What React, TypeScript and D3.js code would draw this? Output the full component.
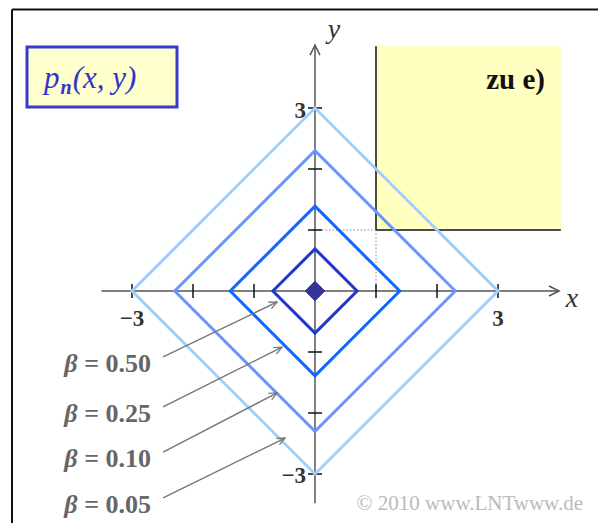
import React from "react";
import * as d3 from "d3";

// contour levels beta and the matching diamond radii |x|+|y| = r
const betas = ["0.05", "0.10", "0.25", "0.50"];
const radii = [3.0, 2.3, 1.39, 0.69];
const colors = ["#9fcfff", "#6a97ff", "#1166ff", "#2038c8"];
// arrow tips (data coords) and label rows (data y) for the beta annotations
const arrowTipX = [-0.49, -0.62, -0.54, -0.62];
const arrowTipY = [-2.41, -1.67, -0.92, -0.18];
const labelRowY = [-3.39, -2.64, -1.9, -1.08];
const xTicks = [-3, -2, -1, 1, 2, 3];
const yTicks = [-3, -2, -1, 1, 2, 3];

const W = 598;
const H = 523;
const serif = "Liberation Serif, DejaVu Serif, serif";

export default function App() {
  const x = d3.scaleLinear().domain([-3, 3]).range([132, 498]);
  const y = d3.scaleLinear().domain([-3, 3]).range([474, 108]);

  const diamond = (r: number) =>
    d3.line<[number, number]>()
      .x((d) => x(d[0]))
      .y((d) => y(d[1]))([[r, 0], [0, r], [-r, 0], [0, -r], [r, 0]]) + "Z";

  const axisColor = "#555";
  const xEnd = x(4.0);
  const yEnd = y(4.03);
  const txt = { fontFamily: serif } as React.CSSProperties;

  return (
    <svg width={W} height={H} style={{ position: "absolute", left: 0, top: 0, background: "#fff" }}>
      <defs>
        <marker id="ah" viewBox="0 0 10 10" refX="9" refY="5" markerWidth="9" markerHeight="9" orient="auto" markerUnits="userSpaceOnUse">
          <path d="M0,1 L9,5 L0,9" fill="none" stroke="#777" strokeWidth="1.4" />
        </marker>
      </defs>
      {/* frame */}
      <line x1={12} y1={9.5} x2={W} y2={9.5} stroke="#111" strokeWidth={2} />
      <line x1={12} y1={9.5} x2={12} y2={H} stroke="#111" strokeWidth={2} />

      {/* region box */}
      <rect x={x(1)} y={yEnd + 1} width={x(4.03) - x(1)} height={y(1) - yEnd - 1} fill="#ffffc0" />
      <line x1={x(1)} y1={yEnd + 1} x2={x(1)} y2={y(1)} stroke="#111" strokeWidth={1.5} />
      <line x1={x(1)} y1={y(1)} x2={x(4.03)} y2={y(1)} stroke="#111" strokeWidth={1.5} />
      <text x={545} y={89} textAnchor="end" style={txt} fontWeight="bold" fontSize={29} fill="#111">zu e)</text>
      <line x1={x(0)} y1={y(1)} x2={x(1)} y2={y(1)} stroke="#888" strokeWidth={1} strokeDasharray="1.5,2" />
      <line x1={x(1)} y1={y(1)} x2={x(1)} y2={y(0)} stroke="#888" strokeWidth={1} strokeDasharray="1.5,2" />

      {/* axes */}
      <line x1={x(-3.5)} y1={y(0)} x2={xEnd} y2={y(0)} stroke={axisColor} strokeWidth={1.5} />
      <path d={`M${xEnd - 10},${y(0) - 5} L${xEnd},${y(0)} L${xEnd - 10},${y(0) + 5}`} fill="none" stroke={axisColor} strokeWidth={1.5} />
      <line x1={x(0)} y1={y(-3.48)} x2={x(0)} y2={yEnd} stroke={axisColor} strokeWidth={1.5} />
      <path d={`M${x(0) - 5},${yEnd + 10} L${x(0)},${yEnd} L${x(0) + 5},${yEnd + 10}`} fill="none" stroke={axisColor} strokeWidth={1.5} />
      {xTicks.map((t) => (
        <line key={"xt" + t} x1={x(t)} y1={y(0) - 7} x2={x(t)} y2={y(0) + 7} stroke="#111" strokeWidth={1.5} />
      ))}
      {yTicks.map((t) => (
        <line key={"yt" + t} x1={x(0) - 7} y1={y(t)} x2={x(0) + 7} y2={y(t)} stroke="#111" strokeWidth={1.5} />
      ))}
      <text x={572} y={307} textAnchor="middle" style={txt} fontStyle="italic" fontSize={28} fill="#333">x</text>
      <text x={334} y={38} textAnchor="middle" style={txt} fontStyle="italic" fontSize={28} fill="#333">y</text>
      <text x={x(3)} y={326} textAnchor="middle" style={txt} fontWeight="bold" fontSize={23} fill="#333">3</text>
      <text x={x(-3)} y={326} textAnchor="middle" style={txt} fontWeight="bold" fontSize={23} fill="#333">−3</text>
      <text x={306} y={118} textAnchor="end" style={txt} fontWeight="bold" fontSize={23} fill="#333">3</text>
      <text x={306} y={483} textAnchor="end" style={txt} fontWeight="bold" fontSize={23} fill="#333">−3</text>

      {/* contour diamonds */}
      {radii.map((r, i) => (
        <path key={"d" + i} d={diamond(r)} fill="none" stroke={colors[i]} strokeWidth={3} strokeLinejoin="miter" />
      ))}
      <path d={diamond(0.16)} fill="#333399" stroke="#333399" strokeWidth={1} />

      {/* beta annotations */}
      {betas.map((b, i) => (
        <g key={"b" + i}>
          <line
            x1={x(-2.49)}
            y1={y(labelRowY[i])}
            x2={x(arrowTipX[i])}
            y2={y(arrowTipY[i])}
            stroke="#777"
            strokeWidth={1.4}
            markerEnd="url(#ah)"
          />
          <text x={151} y={y(labelRowY[i]) + 15} textAnchor="end" style={txt} fontWeight="bold" fontSize={26} fill="#666">
            <tspan fontStyle="italic">β</tspan>
            <tspan> = {b}</tspan>
          </text>
        </g>
      ))}

      {/* density label */}
      <rect x={27} y={47} width={150} height={60} fill="#ffffcc" stroke="#3a3acc" strokeWidth={3} />
      <text x={44} y={88} style={txt} fontStyle="italic" fontSize={31} fill="#3333cc">
        <tspan>p</tspan>
        <tspan fontWeight="bold" fontSize={20} dy={6} dx={1}>n</tspan>
        <tspan dy={-6} dx={1}>(x, y)</tspan>
      </text>

      <text x={583} y={510} textAnchor="end" style={txt} fontSize={21} fill="#bbb">© 2010 www.LNTwww.de</text>
    </svg>
  );
}
